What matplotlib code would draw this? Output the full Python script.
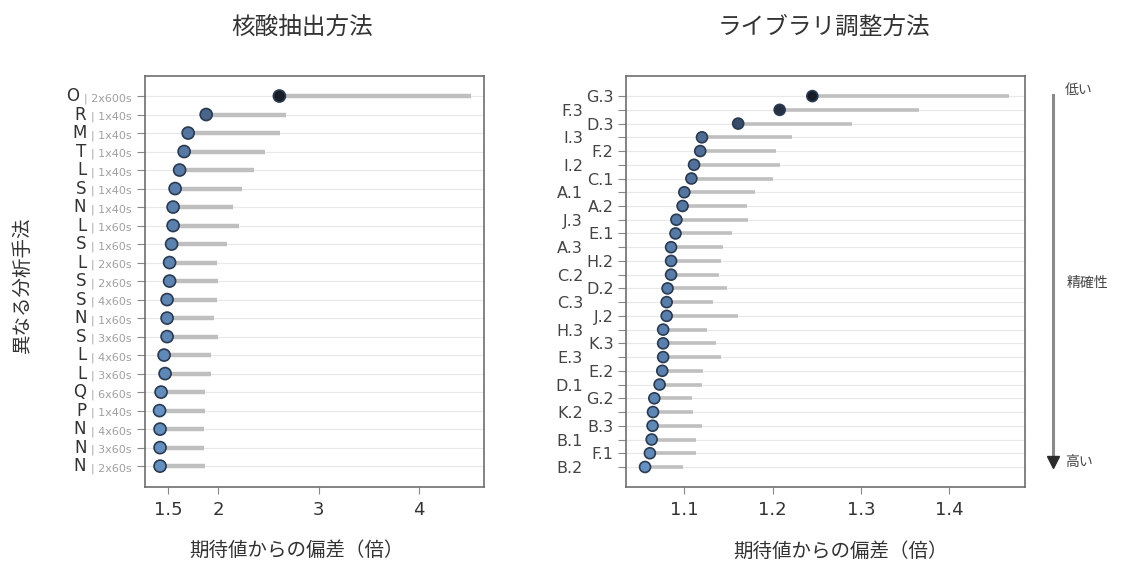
import numpy as np
import matplotlib
matplotlib.use('Agg')
import matplotlib.pyplot as plt
from matplotlib.colors import LinearSegmentedColormap, PowerNorm
from matplotlib.offsetbox import TextArea, HPacker, AnnotationBbox
from matplotlib.transforms import blended_transform_factory

plt.rcParams['font.family'] = ['DejaVu Sans', 'Noto Sans CJK JP']
plt.rcParams['axes.unicode_minus'] = False

# 核酸抽出方法: 記号 / 条件 / 点推定 / 上限
ext_letters = ['O', 'R', 'M', 'T', 'L', 'S', 'N', 'L', 'S', 'L', 'S',
               'S', 'N', 'S', 'L', 'L', 'Q', 'P', 'N', 'N', 'N']
ext_runs = ['2x600s', '1x40s', '1x40s', '1x40s', '1x40s', '1x40s', '1x40s',
            '1x60s', '1x60s', '2x60s', '2x60s', '4x60s', '1x60s', '3x60s',
            '4x60s', '3x60s', '6x60s', '1x40s', '4x60s', '3x60s', '2x60s']
ext_value = [2.61, 1.88, 1.70, 1.66, 1.615, 1.57, 1.55, 1.55, 1.535, 1.515, 1.515,
             1.49, 1.49, 1.49, 1.46, 1.47, 1.43, 1.415, 1.42, 1.42, 1.42]
ext_upper = [4.52, 2.68, 2.62, 2.47, 2.36, 2.24, 2.15, 2.21, 2.09, 1.99, 2.00,
             1.99, 1.96, 2.00, 1.93, 1.93, 1.87, 1.87, 1.86, 1.86, 1.87]

# ライブラリ調整方法
lib_labels = ['G.3', 'F.3', 'D.3', 'I.3', 'F.2', 'I.2', 'C.1', 'A.1', 'A.2', 'J.3',
              'E.1', 'A.3', 'H.2', 'C.2', 'D.2', 'C.3', 'J.2', 'H.3', 'K.3', 'E.3',
              'E.2', 'D.1', 'G.2', 'K.2', 'B.3', 'B.1', 'F.1', 'B.2']
lib_value = [1.245, 1.208, 1.161, 1.120, 1.118, 1.111, 1.108, 1.100, 1.098, 1.091,
             1.090, 1.085, 1.085, 1.085, 1.081, 1.080, 1.080, 1.076, 1.076, 1.076,
             1.075, 1.072, 1.066, 1.0645, 1.064, 1.063, 1.061, 1.0555]
lib_upper = [1.468, 1.366, 1.290, 1.222, 1.204, 1.208, 1.200, 1.180, 1.171, 1.172,
             1.154, 1.144, 1.141, 1.139, 1.148, 1.133, 1.161, 1.126, 1.136, 1.142,
             1.121, 1.120, 1.109, 1.110, 1.120, 1.113, 1.113, 1.099]

cmap = LinearSegmentedColormap.from_list('dev', ['#6592c3', '#52709a', '#161c28'])

fig = plt.figure(figsize=(11.26, 5.65), dpi=100)
ax1 = fig.add_axes([0.1288, 0.138, 0.301, 0.7274])
ax2 = fig.add_axes([0.556, 0.138, 0.3544, 0.7274])


def lollipop(ax, value, upper, size, lw):
    value = np.array(value)
    upper = np.array(upper)
    y = np.arange(len(value))
    norm = PowerNorm(0.6, vmin=value.min(), vmax=value.max())
    ax.hlines(y, value, upper, color='#bfbfbf', lw=lw, zorder=2)
    ax.scatter(value, y, s=size, c=cmap(norm(value)), edgecolors='#2a3a50',
               linewidths=1.2, zorder=3)
    ax.grid(axis='y', color='#e8e8e8', lw=0.8, zorder=0)
    ax.set_axisbelow(True)
    for sp in ax.spines.values():
        sp.set_color('#6e6e6e')
        sp.set_linewidth(1.2)
    ax.tick_params(axis='x', length=5, color='#888888', labelsize=13,
                   labelcolor='#333333', pad=5)
    ax.tick_params(axis='y', length=6, color='#888888')
    return y


# 左パネル
y1 = lollipop(ax1, ext_value, ext_upper, 75, 3.2)
ax1.set_xlim(1.27, 4.65)
ax1.set_ylim(len(y1) - 1 + 1.13, -1.08)
ax1.set_xticks([1.5, 2, 3, 4])
ax1.set_xticklabels(['1.5', '2', '3', '4'])
ax1.set_yticks(y1)
ax1.set_yticklabels([''] * len(y1))
trans = blended_transform_factory(ax1.transAxes, ax1.transData)
for yi, letter, run in zip(y1, ext_letters, ext_runs):
    box = HPacker(children=[
        TextArea(letter, textprops=dict(size=12, color='#333333')),
        TextArea('| ' + run, textprops=dict(size=8, color='#a0a0a0')),
    ], align='baseline', pad=0, sep=3)
    ab = AnnotationBbox(box, (0, yi), xycoords=trans, xybox=(-10, 0),
                        boxcoords='offset points', box_alignment=(1, 0.5),
                        frameon=False, annotation_clip=False)
    ax1.add_artist(ab)

# 右パネル
y2 = lollipop(ax2, lib_value, lib_upper, 62, 2.6)
ax2.set_xlim(1.034, 1.486)
ax2.set_ylim(len(y2) - 1 + 1.46, -1.46)
ax2.set_xticks([1.1, 1.2, 1.3, 1.4])
ax2.set_xticklabels(['1.1', '1.2', '1.3', '1.4'])
ax2.set_yticks(y2)
ax2.set_yticklabels(lib_labels, fontsize=11.5, color='#444444')
for i, tick in enumerate(ax2.yaxis.get_major_ticks()):
    tick.set_pad(3 if i % 2 == 0 else 25)

# 精確性の矢印
ax2.plot([1.07, 1.07], [0.954, 0.07], transform=ax2.transAxes, color='#8a8a8a',
         lw=2.2, clip_on=False)
ax2.plot([1.07], [0.06], transform=ax2.transAxes, marker='v', color='#2b2b2b',
         markersize=9, clip_on=False)
ax2.text(1.10, 0.966, '低い', transform=ax2.transAxes, fontsize=10,
         color='#444444', va='center', ha='left')
ax2.text(1.105, 0.496, '精確性', transform=ax2.transAxes, fontsize=10,
         color='#444444', va='center', ha='left')
ax2.text(1.10, 0.06, '高い', transform=ax2.transAxes, fontsize=10,
         color='#444444', va='center', ha='left')

# タイトルと軸ラベル
fig.text(302 / 1126, 1 - 27 / 565, '核酸抽出方法', fontsize=17, color='#333333',
         ha='center', va='center')
fig.text(824 / 1126, 1 - 27 / 565, 'ライブラリ調整方法', fontsize=17, color='#333333',
         ha='center', va='center')
fig.text(297 / 1126, 1 - 550 / 565, '期待値からの偏差（倍）', fontsize=14,
         color='#333333', ha='center', va='center')
fig.text(840 / 1126, 1 - 551 / 565, '期待値からの偏差（倍）', fontsize=14,
         color='#333333', ha='center', va='center')
fig.text(22 / 1126, 0.496, '異なる分析手法', fontsize=14, color='#333333',
         rotation=90, ha='center', va='center')

fig.savefig('out.png', dpi=100, facecolor='white')
